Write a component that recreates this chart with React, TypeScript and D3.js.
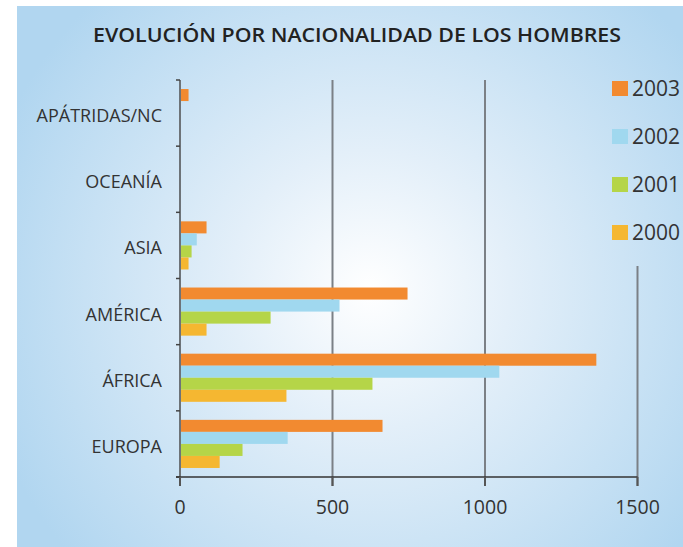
import React from "react";
import { scaleLinear, scaleBand } from "d3";

const categories = ["APÁTRIDAS/NC", "OCEANÍA", "ASIA", "AMÉRICA", "ÁFRICA", "EUROPA"];
const years = ["2003", "2002", "2001", "2000"];
const values2003 = [28, 0, 87, 746, 1365, 664];
const values2002 = [0, 0, 55, 523, 1047, 353];
const values2001 = [0, 0, 38, 297, 631, 205];
const values2000 = [0, 0, 28, 87, 349, 130];
const xTicks = [0, 500, 1000, 1500];
const colors = ["#f28a30", "#a0d8ef", "#b5d548", "#f5b731"];

const series = [values2003, values2002, values2001, values2000];

const App = () => {
  const width = 683;
  const height = 547;
  const top = 80;
  const bottom = 477;
  const left = 180;
  const right = 637.5;
  const font = "'Open Sans', sans-serif";
  const textColor = "#333";

  const xScale = scaleLinear().domain([0, 1500]).range([left, right]);
  const yScale = scaleBand().domain(categories).range([top, bottom]);
  const yInner = scaleBand()
    .domain(years)
    .range([0, yScale.bandwidth()])
    .paddingOuter(0.75);

  // legend layout
  const legendX = 612;
  const legendY = 81;
  const legendStep = 48;
  const legendEnd = legendY + legendStep * (years.length - 1) + 41;

  const bars = categories.map((c, ci) =>
    years.map((yr, si) => (
      <rect
        key={c + yr}
        x={xScale(0)}
        y={(yScale(c) as number) + (yInner(yr) as number)}
        width={xScale(series[si][ci]) - xScale(0)}
        height={yInner.bandwidth()}
        fill={colors[si]}
      />
    ))
  );

  const gridlines = xTicks.slice(1).map((t, i) => (
    <line
      key={t}
      x1={xScale(t)}
      x2={xScale(t)}
      y1={t === 1500 ? legendEnd : top}
      y2={bottom + 9}
      stroke="#7b8086"
      strokeWidth={2}
    />
  ));

  const tickLabels = xTicks.map((t) => (
    <text
      key={t}
      x={xScale(t)}
      y={bottom + 37}
      textAnchor="middle"
      fontSize={19.5}
      fontFamily={font}
      fill={textColor}
    >
      {t}
    </text>
  ));

  const yTicks = [...categories.map((c) => yScale(c) as number), bottom].map((y, i) => (
    <line key={i} x1={left - 4} x2={left} y1={y} y2={y} stroke="#444" strokeWidth={1.5} />
  ));

  const catLabels = categories.map((c) => (
    <text
      key={c}
      x={162}
      y={(yScale(c) as number) + yScale.bandwidth() / 2}
      dy="0.5em"
      textAnchor="end"
      fontSize={18}
      fontFamily={font}
      fill={textColor}
    >
      {c}
    </text>
  ));

  const legend = years.map((yr, i) => (
    <g key={yr} transform={`translate(${legendX},${legendY + i * legendStep})`}>
      <rect x={0} y={0} width={16} height={15} fill={colors[i]} />
      <text x={20} y={14.5} fontSize={21} fontFamily={font} fill={textColor}>
        {yr}
      </text>
    </g>
  ));

  return (
    <svg
      width={width}
      height={height}
      viewBox={`0 0 ${width} ${height}`}
      style={{ position: "absolute", left: 0, top: 0 }}
    >
      <defs>
        <radialGradient id="bg" gradientUnits="userSpaceOnUse" cx={370} cy={290} r={400}>
          <stop offset="0" stopColor="#ffffff" />
          <stop offset="0.35" stopColor="#e3eff9" />
          <stop offset="1" stopColor="#b1d6f0" />
        </radialGradient>
      </defs>
      <rect x={0} y={0} width={width} height={height} fill="#fff" />
      <rect x={17} y={6} width={width - 17} height={height - 6} fill="url(#bg)" />
      <text
        x={357}
        y={42}
        textAnchor="middle"
        fontSize={20}
        fontWeight={600}
        fontFamily={font}
        fill="#222"
        textLength={528}
        lengthAdjust="spacingAndGlyphs"
      >
        EVOLUCIÓN POR NACIONALIDAD DE LOS HOMBRES
      </text>
      {gridlines}
      {bars}
      <line x1={left} x2={left} y1={top} y2={bottom + 9} stroke="#6d7378" strokeWidth={2} />
      {yTicks}
      <line x1={left - 4} x2={right} y1={bottom} y2={bottom} stroke="#333" strokeWidth={1.5} />
      {xTicks.map((t) => (
        <line key={t} x1={xScale(t)} x2={xScale(t)} y1={bottom} y2={bottom + 9} stroke="#555" strokeWidth={2} />
      ))}
      {tickLabels}
      {catLabels}
      {legend}
    </svg>
  );
};

export default App;
